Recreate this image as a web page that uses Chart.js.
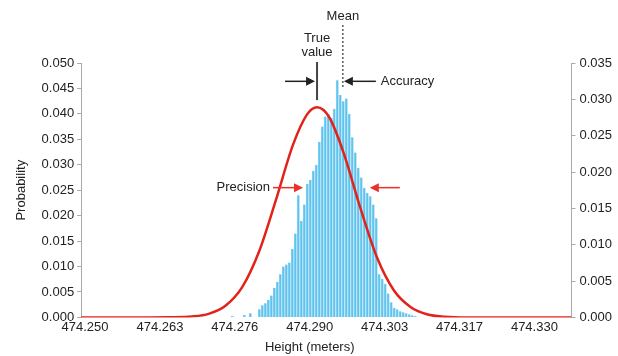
<!DOCTYPE html>
<html>
<head>
<meta charset="utf-8">
<script src="https://cdn.jsdelivr.net/npm/chart.js@4.4.1/dist/chart.umd.min.js"></script>
<style>
  body { margin: 0; background: #fff; }
  #wrap { width: 618px; height: 356px; }
</style>
</head>
<body>
<div id="wrap"><canvas id="chart" width="618" height="356"></canvas></div>
<script>
// histogram of the measured heights: bin centres (m) and probability per bin
const binCenters = [474.27622, 474.27835, 474.27942,
  474.28102, 474.28155, 474.28209, 474.28262, 474.28315, 474.28369, 474.28422, 474.28475, 474.28529, 474.28582,
  474.28635, 474.28689, 474.28742, 474.28795, 474.28849, 474.28902, 474.28955, 474.29009, 474.29062, 474.29115,
  474.29169, 474.29222, 474.29275, 474.29329, 474.29382, 474.29435, 474.29489, 474.29542, 474.29595, 474.29649,
  474.29702, 474.29755, 474.29809, 474.29862, 474.29915, 474.29969, 474.30022, 474.30075, 474.30129, 474.30182,
  474.30235, 474.30289, 474.30342, 474.30395, 474.30449, 474.30502, 474.30555, 474.30609, 474.30662, 474.30715,
  474.30769, 474.30822, 474.30875];
const binProb = [0.0003, 0.0005, 0.0008,
  0.0016, 0.0024, 0.0028, 0.0034, 0.0043, 0.0058, 0.0070, 0.0085, 0.0100, 0.0104,
  0.0108, 0.0135, 0.0165, 0.0240, 0.0190, 0.0222, 0.0262, 0.0270, 0.0288, 0.0300,
  0.0345, 0.0375, 0.0395, 0.0400, 0.0392, 0.0410, 0.0466, 0.0437, 0.0425, 0.0430,
  0.0400, 0.0354, 0.0324, 0.0294, 0.0275, 0.0255, 0.0245, 0.0238, 0.0222, 0.0195,
  0.0085, 0.0076, 0.0066, 0.0047, 0.0030, 0.0019, 0.0016, 0.0012, 0.0010, 0.0008,
  0.0006, 0.0004, 0.0003];

// red curve (right axis)
const curveX = [474.2493, 474.2600, 474.2650, 474.2690, 474.2720, 474.2750, 474.2780, 474.2810, 474.2840, 474.2870,
  474.2895, 474.2913, 474.2935, 474.2960, 474.2990, 474.3020, 474.3050, 474.3080, 474.3110, 474.3140, 474.3180, 474.3366];
const curveY = [0, 0, 0.00002, 0.00012, 0.00048, 0.0016, 0.0042, 0.0091, 0.0162, 0.0237,
  0.0279, 0.0289, 0.0275, 0.0227, 0.0151, 0.0082, 0.0037, 0.0014, 0.0004, 0.0001, 0, 0];

const xTickValues = [474.25, 474.263333, 474.276667, 474.29, 474.303333, 474.316667, 474.33];
const xTickLabels = ['474.250', '474.263', '474.276', '474.290', '474.303', '474.317', '474.330'];

// marked values
const meanValue = 474.2959;
const trueValue = 474.2913;
const precisionLeft = 474.2888;
const precisionRight = 474.3007;
const accuracyLevel = 0.0464;
const precisionLevel = 0.0255;

const FONT = '"Liberation Sans", Arial, Helvetica, sans-serif';
const TXT = '#222';

function arrow(ctx, x1, y, x2, color) {
  const dir = x2 > x1 ? 1 : -1;
  ctx.save();
  ctx.strokeStyle = color;
  ctx.fillStyle = color;
  ctx.lineWidth = 1.5;
  ctx.beginPath();
  ctx.moveTo(x1, y);
  ctx.lineTo(x2 - dir * 6, y);
  ctx.stroke();
  ctx.beginPath();
  ctx.moveTo(x2, y);
  ctx.lineTo(x2 - dir * 9, y - 4.5);
  ctx.lineTo(x2 - dir * 9, y + 4.5);
  ctx.closePath();
  ctx.fill();
  ctx.restore();
}

const notes = {
  id: 'notes',
  afterDraw(chart) {
    const ctx = chart.ctx;
    const xs = chart.scales.x, ys = chart.scales.y;
    const top = chart.chartArea.top;
    ctx.save();
    ctx.font = '13px ' + FONT;
    ctx.fillStyle = TXT;
    ctx.textBaseline = 'middle';

    // x axis title, centred under the middle tick
    ctx.textAlign = 'center';
    ctx.fillText('Height (meters)', xs.getPixelForValue(xTickValues[3]), 347);

    // mean
    const xm = xs.getPixelForValue(meanValue);
    ctx.fillText('Mean', xm, top - 47);
    ctx.save();
    ctx.strokeStyle = '#333';
    ctx.lineWidth = 1.2;
    ctx.setLineDash([2, 2]);
    ctx.beginPath();
    ctx.moveTo(xm, top - 38);
    ctx.lineTo(xm, ys.getPixelForValue(0.045));
    ctx.stroke();
    ctx.restore();

    // true value
    const xt = xs.getPixelForValue(trueValue);
    ctx.fillText('True', xt, top - 25);
    ctx.fillText('value', xt, top - 11);
    ctx.save();
    ctx.strokeStyle = '#444';
    ctx.lineWidth = 2;
    ctx.beginPath();
    ctx.moveTo(xt, top - 1);
    ctx.lineTo(xt, ys.getPixelForValue(0.0427));
    ctx.stroke();
    ctx.restore();

    // accuracy arrows
    const ya = ys.getPixelForValue(accuracyLevel);
    arrow(ctx, xt - 32, ya, xt - 2, '#222');
    arrow(ctx, xm + 33, ya, xm + 1, '#222');
    ctx.textAlign = 'left';
    ctx.fillText('Accuracy', xm + 38, ya);

    // precision arrows
    const yp = ys.getPixelForValue(precisionLevel);
    const pl = xs.getPixelForValue(precisionLeft);
    const pr = xs.getPixelForValue(precisionRight);
    arrow(ctx, pl - 30, yp, pl, '#e8312a');
    arrow(ctx, pr + 30, yp, pr, '#e8312a');
    ctx.textAlign = 'right';
    ctx.fillText('Precision', pl - 33, yp);
    ctx.restore();
  }
};

const axisGrey = '#aaa';

new Chart(document.getElementById('chart'), {
  type: 'bar',
  data: {
    datasets: [{
      type: 'line',
      data: curveX.map((x, i) => ({ x: x, y: curveY[i] })),
      yAxisID: 'y2',
      borderColor: '#e2231a',
      borderWidth: 2.5,
      pointRadius: 0,
      fill: false,
      cubicInterpolationMode: 'monotone'
    }, {
      type: 'bar',
      data: binCenters.map((x, i) => ({ x: x, y: binProb[i] })),
      yAxisID: 'y',
      backgroundColor: '#5cc5ef',
      borderColor: '#3aa6dc',
      borderWidth: 0.5,
      barPercentage: 0.93,
      categoryPercentage: 1
    }]
  },
  options: {
    responsive: false,
    animation: false,
    layout: { padding: { top: 63, left: 10, right: 2, bottom: 19 } },
    plugins: { legend: { display: false }, tooltip: { enabled: false } },
    scales: {
      x: {
        type: 'linear',
        min: 474.2493,
        max: 474.3366,
        offset: false,
        grid: { display: false, offset: false, drawTicks: false, tickLength: 0 },
        border: { display: false },
        afterBuildTicks: s => { s.ticks = xTickValues.map(v => ({ value: v })); },
        ticks: {
          autoSkip: false,
          maxRotation: 0,
          padding: 2,
          color: TXT,
          font: { family: FONT, size: 13 },
          callback: (v, i) => xTickLabels[i]
        }
      },
      y: {
        position: 'left',
        min: 0,
        max: 0.05,
        ticks: {
          stepSize: 0.005,
          padding: 3,
          color: TXT,
          font: { family: FONT, size: 13 },
          callback: v => v.toFixed(3)
        },
        grid: { drawOnChartArea: false, color: axisGrey, tickLength: 4 },
        border: { color: axisGrey },
        title: {
          display: true,
          text: 'Probability',
          color: TXT,
          font: { family: FONT, size: 13 },
          padding: { top: 4, bottom: 9 }
        }
      },
      y2: {
        position: 'right',
        min: 0,
        max: 0.035,
        ticks: {
          stepSize: 0.005,
          padding: 4,
          color: TXT,
          font: { family: FONT, size: 13 },
          callback: v => v.toFixed(3)
        },
        grid: { drawOnChartArea: false, color: axisGrey, tickLength: 4 },
        border: { color: axisGrey }
      }
    }
  },
  plugins: [notes]
});
</script>
</body>
</html>
